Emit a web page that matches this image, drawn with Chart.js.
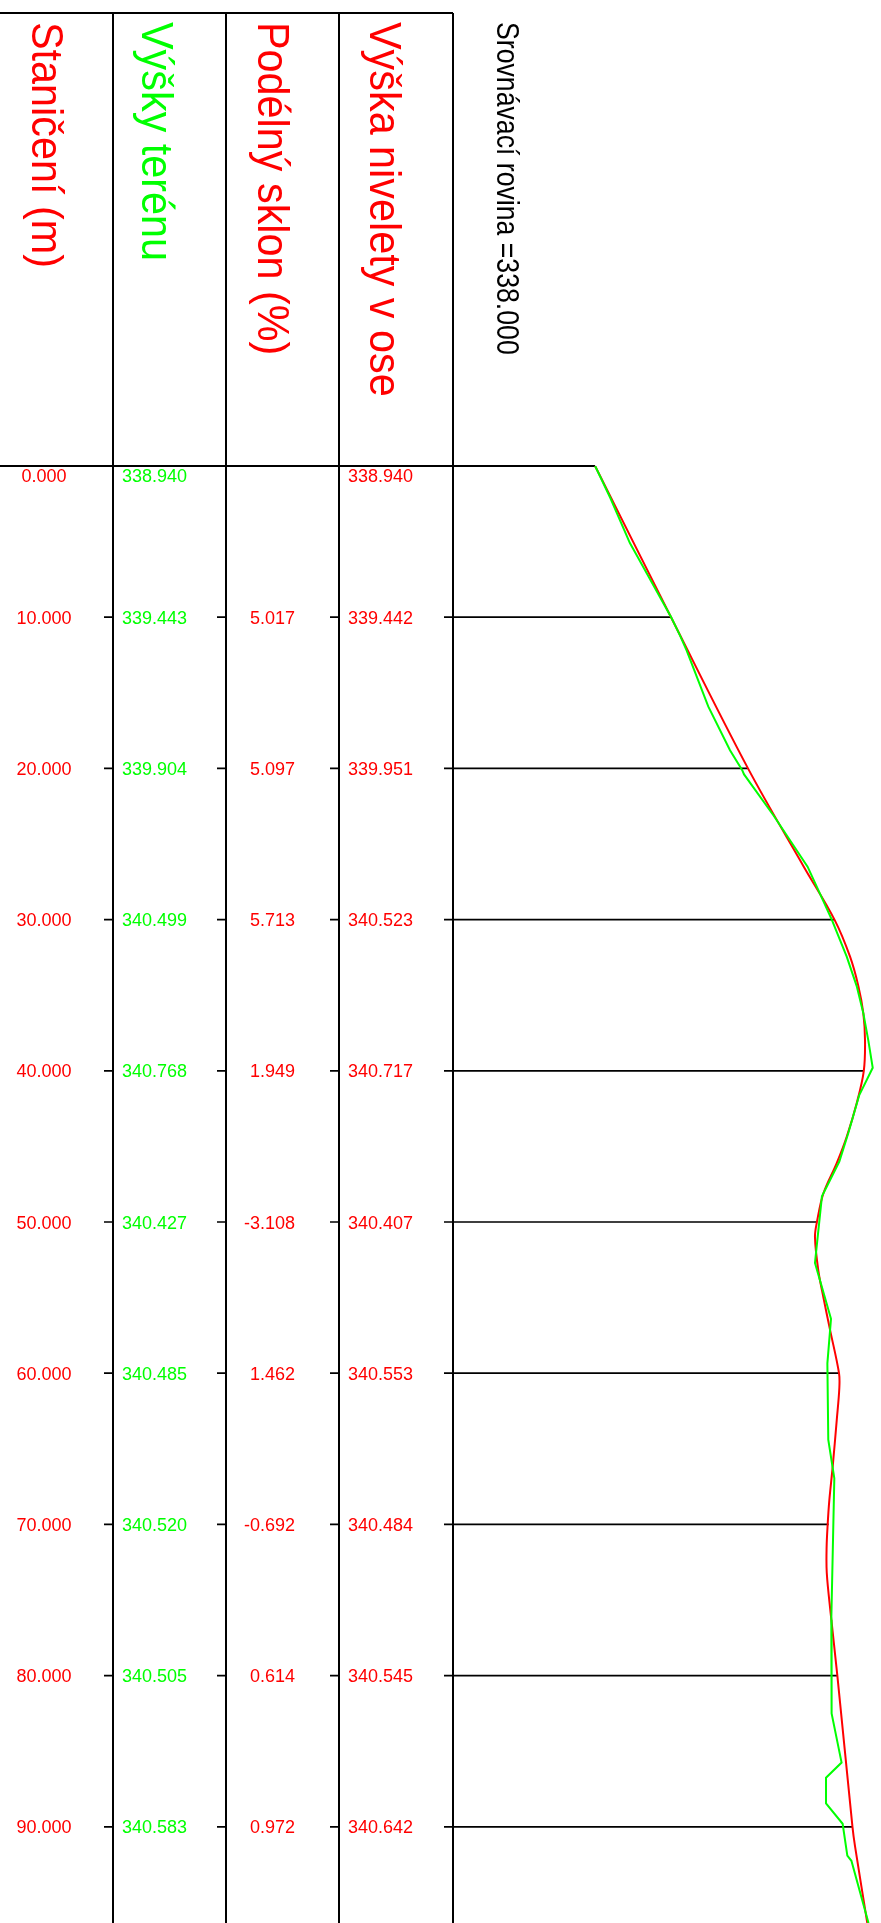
<!DOCTYPE html>
<html>
<head>
<meta charset="utf-8">
<script src="https://cdn.jsdelivr.net/npm/chart.js@4"></script>
<style>
  html, body { margin: 0; padding: 0; background: #fff; }
  #wrap { width: 881px; height: 1923px; }
</style>
</head>
<body>
<div id="wrap"><canvas id="profile" width="881" height="1923"></canvas></div>
<script>
// staničení a hodnoty v tabulce
const stations = [0, 10, 20, 30, 40, 50, 60, 70, 80, 90];
const terrainAt = [338.940, 339.443, 339.904, 340.499, 340.768, 340.427, 340.485, 340.520, 340.505, 340.583];
const slopes = [null, 5.017, 5.097, 5.713, 1.949, -3.108, 1.462, -0.692, 0.614, 0.972];
const gradeAt = [338.940, 339.442, 339.951, 340.523, 340.717, 340.407, 340.553, 340.484, 340.545, 340.642];

// průběh terénu (zelená) a nivelety (červená)
const terrainSta = [0, 2.1, 5.1, 5.5, 10, 11.2, 12.2, 15.9, 18.8, 20.1, 20.4, 23.1, 26.5, 27.8, 30, 32.45, 34.4, 36.2, 38, 39.8, 41.6, 44.1, 46, 48.3, 52.7, 56.4, 59.35, 64.4, 66.95, 76.3, 82.5, 85.75, 86.75, 88.45, 89.8, 91.9, 92.25, 96.36];
const terrainElev = [338.940, 339.040, 339.170, 339.193, 339.443, 339.501, 339.545, 339.688, 339.832, 339.912, 339.925, 340.119, 340.345, 340.405, 340.505, 340.604, 340.670, 340.714, 340.747, 340.776, 340.687, 340.615, 340.555, 340.440, 340.394, 340.500, 340.476, 340.482, 340.522, 340.502, 340.504, 340.570, 340.467, 340.467, 340.577, 340.608, 340.635, 340.748];
const gradeSta = [0, 10, 20, 26.5, 30, 32.45, 34.4, 36.2, 38, 40, 42.15, 44.36, 46.1, 48.1, 50, 51, 53.2, 55, 57.1, 60, 61, 63.1, 66.2, 68.4, 70, 71.5, 73.2, 75.9, 80, 90, 91.3, 96.36];
const gradeElev = [338.940, 339.442, 339.951, 340.320, 340.523, 340.626, 340.681, 340.714, 340.725, 340.717, 340.670, 340.604, 340.538, 340.450, 340.407, 340.394, 340.416, 340.450, 340.493, 340.553, 340.555, 340.538, 340.511, 340.489, 340.478, 340.471, 340.472, 340.498, 340.542, 340.642, 340.659, 340.740];

const headers = ["Staničení (m)", "Výšky terénu", "Podélný sklon (%)", "Výška nivelety v ose"];
const headerColors = ["#ff0000", "#00ff00", "#ff0000", "#ff0000"];
const datumText = "Srovnávací rovina =338.000";
const datum = 338.0;

const RED = "#ff0000";
const GREEN = "#00ff00";
const colLines = [113, 226, 339, 453];
const topY = 13;

const tablePlugin = {
  id: "table",
  beforeDatasetsDraw(chart) {
    const c = chart.ctx;
    const xs = chart.scales.x, ys = chart.scales.y;
    const H = chart.height;
    const y0 = ys.getPixelForValue(0);
    c.save();
    c.strokeStyle = "#000";
    c.lineWidth = 2;
    // rám tabulky
    c.beginPath();
    c.moveTo(0, topY); c.lineTo(colLines[3], topY);
    colLines.forEach(x => { c.moveTo(x, topY); c.lineTo(x, H); });
    c.moveTo(0, y0); c.lineTo(xs.getPixelForValue(gradeAt[0]), y0);
    c.stroke();
    // staniční čáry a značky
    c.lineWidth = 1.7;
    c.beginPath();
    stations.forEach((s, i) => {
      if (i === 0) return;
      const y = ys.getPixelForValue(s);
      colLines.slice(0, 3).forEach(x => { c.moveTo(x - 9, y); c.lineTo(x, y); });
      c.moveTo(colLines[3] - 9, y);
      c.lineTo(xs.getPixelForValue(gradeAt[i]), y);
    });
    c.stroke();
    c.restore();
  },
  afterDraw(chart) {
    const c = chart.ctx;
    const ys = chart.scales.y;
    c.save();
    // záhlaví (otočený text)
    const hx = [32, 142, 258, 370];
    headers.forEach((t, i) => {
      c.save();
      c.translate(hx[i], 22);
      c.rotate(Math.PI / 2);
      c.scale(0.94, 1);
      c.font = "44px 'Liberation Sans', Arial, sans-serif";
      c.fillStyle = headerColors[i];
      c.textBaseline = "alphabetic";
      c.textAlign = "left";
      c.fillText(t, 0, 0);
      c.restore();
    });
    c.save();
    c.translate(497, 22);
    c.rotate(Math.PI / 2);
    c.scale(0.86, 1);
    c.font = "31px 'Liberation Sans', Arial, sans-serif";
    c.fillStyle = "#000";
    c.fillText(datumText, 0, 0);
    c.restore();

    // hodnoty ve sloupcích
    c.font = "18px 'Liberation Sans', Arial, sans-serif";
    c.textBaseline = "alphabetic";
    stations.forEach((s, i) => {
      const y = i === 0 ? ys.getPixelForValue(s) + 16 : ys.getPixelForValue(s) + 6.5;
      c.fillStyle = RED;
      c.textAlign = "center";
      c.fillText(s.toFixed(3), 44, y);
      c.fillStyle = GREEN;
      c.textAlign = "left";
      c.fillText(terrainAt[i].toFixed(3), 122, y);
      if (slopes[i] !== null) {
        c.fillStyle = RED;
        c.textAlign = "right";
        c.fillText(slopes[i].toFixed(3), 295, y);
      }
      c.fillStyle = RED;
      c.textAlign = "left";
      c.fillText(gradeAt[i].toFixed(3), 348, y);
    });
    c.restore();
  }
};

const toPoints = (sta, elev) => sta.map((s, i) => ({ x: elev[i], y: s }));

new Chart(document.getElementById("profile"), {
  type: "scatter",
  data: {
    datasets: [
      {
        label: "Niveleta",
        data: toPoints(gradeSta, gradeElev),
        showLine: true,
        borderColor: RED,
        borderWidth: 2,
        pointRadius: 0,
        tension: 0.35,
        order: 2
      },
      {
        label: "Terén",
        data: toPoints(terrainSta, terrainElev),
        showLine: true,
        borderColor: GREEN,
        borderWidth: 2,
        pointRadius: 0,
        tension: 0,
        order: 1
      }
    ]
  },
  options: {
    responsive: false,
    animation: false,
    devicePixelRatio: 1,
    layout: { padding: { left: colLines[3], top: 466, right: 0, bottom: 0 } },
    plugins: { legend: { display: false }, tooltip: { enabled: false } },
    scales: {
      x: { type: "linear", min: datum, max: datum + 428 / 151.2, display: false },
      y: { type: "linear", min: 0, max: 1457 / 15.12, reverse: true, display: false }
    }
  },
  plugins: [tablePlugin]
});
</script>
</body>
</html>
